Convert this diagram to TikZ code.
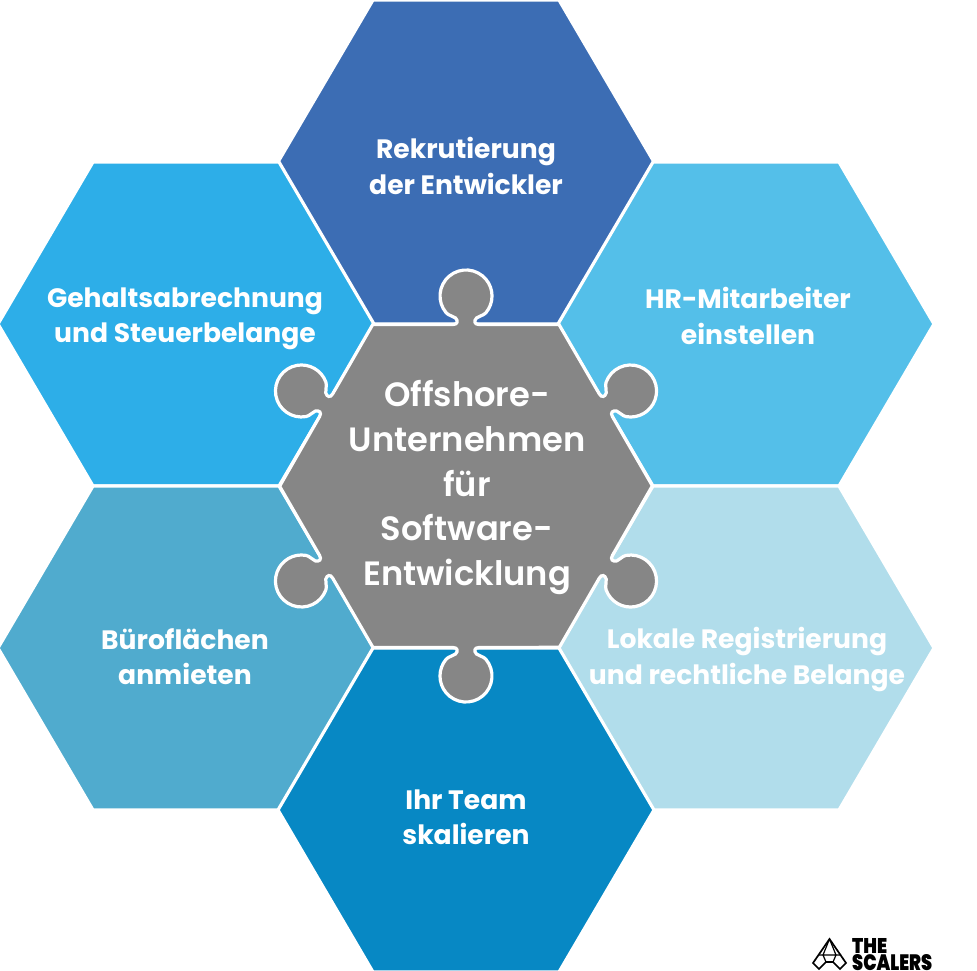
\documentclass[tikz,border=0pt]{standalone}
\usepackage{fontspec}
\setmainfont{Poppins}
\newfontfamily\hubfont{Poppins}[UprightFont=*-SemiBold]
\newfontfamily\logofont{Poppins}[UprightFont=*-Black]
\tikzset{
  cell/.style={draw=white,line width=3.2pt,line join=miter},
  celltext/.style={text=white,font=\fontsize{26.6}{35.2}\selectfont\bfseries,align=center,inner sep=0pt},
  hubtext/.style={text=white,font=\hubfont\fontsize{33.7}{44.6}\selectfont,align=center,inner sep=0pt},
  logotext/.style={text=black,font=\logofont,inner sep=0pt,anchor=south west},
  logoline/.style={draw=black,line width=1.7pt,line join=miter}
}
\definecolor{cTop}{HTML}{3C6DB4}
\definecolor{cRT}{HTML}{54BFE9}
\definecolor{cLT}{HTML}{2DAEE8}
\definecolor{cLB}{HTML}{50ABCE}
\definecolor{cRB}{HTML}{B1DDEB}
\definecolor{cBot}{HTML}{0788C4}
\definecolor{cHub}{HTML}{868686}
\newcommand{\hexat}[3]{%
  \path[cell,fill=#3] (#1+188,#2) -- (#1+93,#2+162) -- (#1-93,#2+162) -- (#1-188,#2) -- (#1-93,#2-162) -- (#1+93,#2-162) -- cycle;}
\begin{document}
\begin{tikzpicture}[x=1pt,y=-1pt]
\useasboundingbox (0,0) rectangle (977,971);
\begin{scope}
\clip (0,0) rectangle (977,971);
\hexat{466}{162}{cTop}
\hexat{746}{324}{cRT}
\hexat{186}{324}{cLT}
\hexat{186}{648}{cLB}
\hexat{746}{648}{cRB}
\hexat{466}{810}{cBot}
\end{scope}
\begin{scope}[shift={(466,486)},y=1pt]
\draw[cell,fill=cHub] ([rotate=0]-93,161.5)
 \foreach \a in {0,-60,-120,-180,-240,-300}{
  -- ([rotate=\a]-13,161.5)
  .. controls ([rotate=\a]-8.5,161.5) and ([rotate=\a]-7.5,165) .. ([rotate=\a]-10.5,168)
  .. controls ([rotate=\a]-13.5,170.5) and ([rotate=\a]-17,170) .. ([rotate=\a]-19.9,173.3)
  arc[start angle=220+\a,end angle=-40+\a,radius=26]
  .. controls ([rotate=\a]17,170) and ([rotate=\a]13.5,170.5) .. ([rotate=\a]10.5,168)
  .. controls ([rotate=\a]7.5,165) and ([rotate=\a]8.5,161.5) .. ([rotate=\a]13,161.5)
  -- ([rotate=\a]93,161.5)
 } -- cycle;
\end{scope}
\node[celltext] (t1) at (466,166) {Rekrutierung\\der Entwickler};
\node[celltext] (t2) at (748,316) {HR-Mitarbeiter\\einstellen};
\node[celltext] (t3) at (185,319) {Gehaltsabrechnung\\und Steuerbelange};
\node[celltext] (t4) at (185,657) {Büroflächen\\anmieten};
\node[celltext] (t5) at (747,659.5) {Lokale Registrierung\\und rechtliche Belange};
\node[celltext] (t6) at (466,817) {Ihr Team\\skalieren};
\node[hubtext] (hub) at (467,487.5) {Offshore-\\Unternehmen\\für\\Software-\\Entwicklung};
\node[logotext] (logoa) at (852,953.5) {\resizebox{35pt}{15pt}{THE}};
\node[logotext] (logob) at (852,970.5) {\resizebox{80pt}{16pt}{SCALERS}};
\draw[logoline] (829.5,939) -- (813,963) -- (819,969) -- (826,962) -- (833,962) -- (840,969) -- (846,963) -- cycle;
\draw[logoline,line width=1.2pt] (818,955) -- (841,955) (829.5,939) -- (823,955) -- (826,962) (829.5,939) -- (836,955) -- (833,962);
\end{tikzpicture}
\end{document}
